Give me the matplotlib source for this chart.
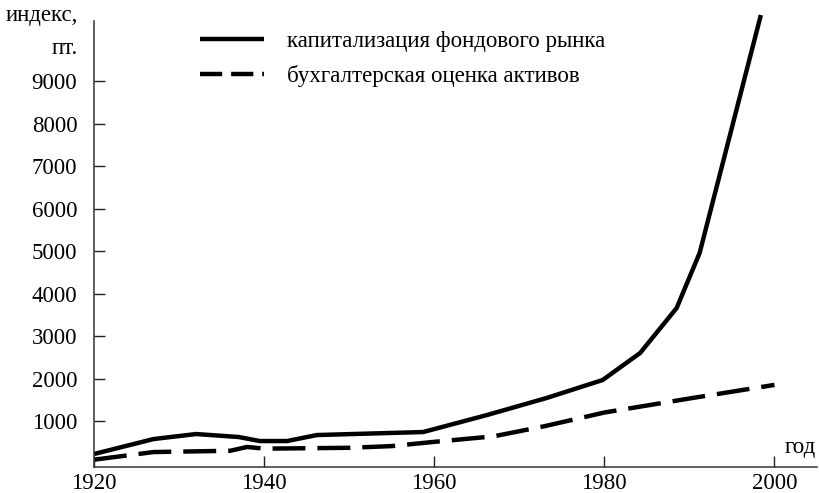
import matplotlib
matplotlib.use("Agg")
import matplotlib.pyplot as plt
from matplotlib.lines import Line2D

plt.rcParams['font.family'] = ['Liberation Serif', 'DejaVu Serif']

# Data
cap_years = [1920, 1927, 1932, 1937, 1939.5, 1942.7, 1946.2, 1958.7, 1966.2, 1973.2, 1979.8, 1984.2, 1988.5, 1991.2, 1998.4]
cap_values = [224, 576, 694, 624, 529, 529, 670, 741, 1141, 1541, 1965, 2600, 3659, 4953, 10553]

book_years = [1920, 1927, 1936, 1938, 1940, 1950, 1955, 1960, 1967, 1973, 1980, 1990, 2000]
book_values = [90, 270, 300, 390, 350, 370, 410, 510, 640, 880, 1200, 1530, 1850]

x_ticks = [1920, 1940, 1960, 1980, 2000]
y_ticks = [1000, 2000, 3000, 4000, 5000, 6000, 7000, 8000, 9000]

label_cap = 'капитализация фондового рынка'
label_book = 'бухгалтерская оценка активов'
y_label = 'индекс,\nпт.'
x_label = 'год'

FS = 16.5
W, H = 819, 493
fig = plt.figure(figsize=(W / 100, H / 100), dpi=100)
ax_left, ax_right, ax_bottom, ax_top = 94, 817, 466.5, 21
ax = fig.add_axes([ax_left / W, (H - ax_bottom) / H, (ax_right - ax_left) / W, (ax_bottom - ax_top) / H])

ax.plot(cap_years, cap_values, color='black', lw=3.2, solid_capstyle='butt', clip_on=False)
ax.plot(book_years, book_values, color='black', lw=3.2, dashes=(7.4, 2.7), dash_capstyle='butt')

ax.set_xlim(1920, 2005)
ax.set_ylim(-70, 10412)
ax.set_xticks(x_ticks)
ax.set_yticks(y_ticks)

for s in ['top', 'right']:
    ax.spines[s].set_visible(False)
for s in ['left', 'bottom']:
    ax.spines[s].set_color('#333333')
    ax.spines[s].set_linewidth(1.1)

ax.tick_params(axis='both', direction='in', length=8, width=1.0, color='#222222', labelsize=FS)
ax.tick_params(axis='y', pad=12)
ax.tick_params(axis='x', pad=5)

fig.text(78 / W, 1 - 32 / H, y_label, ha='right', va='center', fontsize=FS, linespacing=1.75)
fig.text(816 / W, 1 - 448 / H, x_label, ha='right', va='center', fontsize=FS)

handles = [Line2D([], [], color='black', lw=3.2, solid_capstyle='butt'),
           Line2D([], [], color='black', lw=3.2, dashes=(5, 2), dash_capstyle='butt')]
ax.legend(handles, [label_cap, label_book], loc='upper left',
          bbox_to_anchor=(200 / W, 1 - 31 / H), bbox_transform=fig.transFigure,
          frameon=False, fontsize=FS, handlelength=2.8, handletextpad=1.0, labelspacing=0.55,
          borderaxespad=0, borderpad=0)

fig.savefig('out.png', dpi=100)
